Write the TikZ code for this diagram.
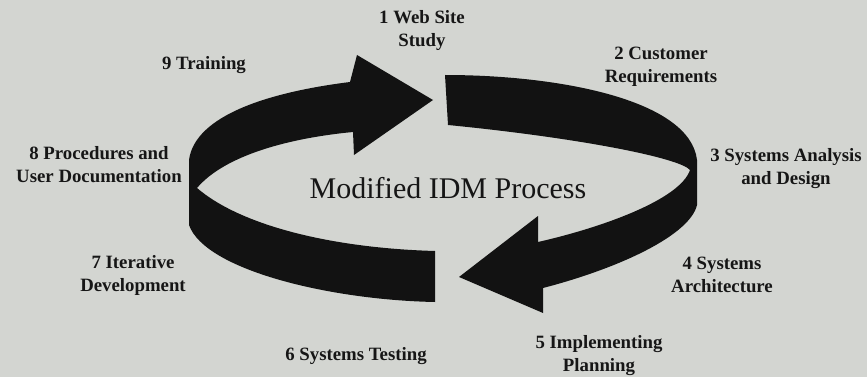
\documentclass[tikz,border=0pt]{standalone}
\usepackage{fontspec}
\setmainfont{Liberation Serif}
\definecolor{paper}{RGB}{211,213,209}
\definecolor{ink}{RGB}{22,22,22}
\definecolor{ribbon}{RGB}{18,18,18}
\begin{document}
\begin{tikzpicture}[x=1pt,y=-1pt,
  band/.style={fill=ribbon,draw=none},
  lab/.style={font=\bfseries\fontsize{18.8}{23}\selectfont,align=center,anchor=base,text=ink,inner sep=0pt},
  ttl/.style={font=\fontsize{30}{36}\selectfont,anchor=base,text=ink,inner sep=0pt}]
\fill[paper] (0,0) rectangle (867,377);
\useasboundingbox (0,0) rectangle (867,377);

% left ribbon: from the front end, round the left side, up to the head at the top
\path[band] (435,251) .. controls (330,248) and (240,225) .. (197,188)
  .. controls (225,155) and (290,138) .. (353,132)
  -- (354,155) -- (433,100) -- (357,55) -- (350,82)
  .. controls (270,92) and (195,115) .. (189,160)
  -- (189,225)
  .. controls (205,270) and (330,300) .. (435,302) -- cycle;

% right ribbon: from the back end, round the right side, down to the head at the bottom
\path[band] (445,75) .. controls (560,75) and (690,100) .. (697,160)
  -- (697,205)
  .. controls (690,235) and (620,268) .. (543,288)
  -- (543,313) -- (459,277) -- (538,216) -- (538,242)
  .. controls (600,228) and (680,200) .. (690,170)
  .. controls (680,158) and (580,138) .. (448,125) -- cycle;

\node[ttl] (title) at (448,198) {Modified IDM Process};

% two-line labels sit on the baseline of their last line
\node[lab] (s1) at (422,47)  {1 Web Site\\Study};
\node[lab] (s2) at (661,83)  {2 Customer\\Requirements};
\node[lab] (s3) at (786,184) {3 Systems Analysis\\and Design};
\node[lab] (s4) at (722,292) {4 Systems\\Architecture};
\node[lab] (s5) at (599,371) {5 Implementing\\Planning};
\node[lab] (s6) at (356,360) {6 Systems Testing};
\node[lab] (s7) at (133,291) {7 Iterative\\Development};
\node[lab] (s8) at (99,182)  {8 Procedures and\\User Documentation};
\node[lab] (s9) at (204,70)  {9 Training};
\end{tikzpicture}
\end{document}
